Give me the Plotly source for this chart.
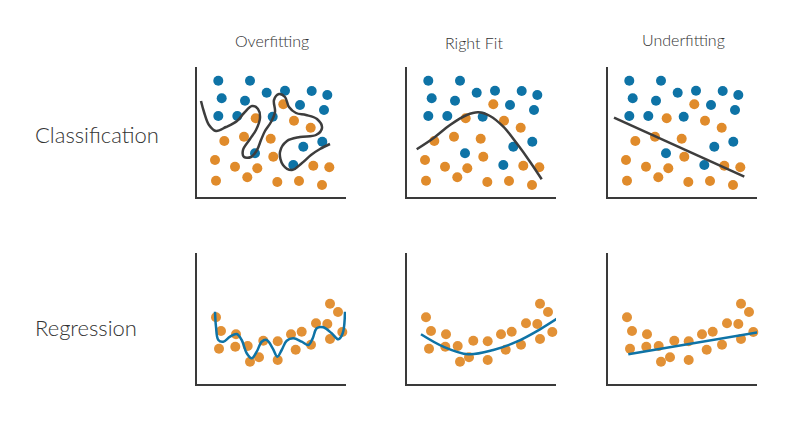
import plotly.graph_objects as go

# ---------------- data (panel-local units) ----------------
col_titles = ["Overfitting", "Right Fit", "Underfitting"]
row_titles = ["Classification", "Regression"]

blue_x = [21.3, 53, 24.7, 48, 69.7, 88, 114.7, 130.3, 21.3, 40.3, 75.7, 103, 127, 125.3, 106.3, 58, 96.3]
blue_y = [116.3, 116.3, 98.7, 96.3, 104.3, 106.3, 106, 102, 81, 81, 80.3, 92, 87, 55.3, 50.3, 43.7, 32]

orange_x = [86.3, 58.7, 97, 113.7, 27.3, 47, 73.7, 18, 76.3, 38, 60.3, 116.3, 132.3, 19, 50.3, 80.3, 102, 125]
orange_y = [92.7, 78.7, 76.3, 69.3, 56, 60.3, 58.3, 37, 40.3, 30.3, 28.7, 31.3, 29.7, 16.3, 19.7, 15, 16, 12]

over_cls_x = [4, 7, 12, 19, 29, 40, 47, 55, 61, 63, 59, 53, 46, 47, 54, 60, 64, 68, 74, 78, 77, 82, 88,
              92, 99, 109, 120, 125, 119, 103, 90, 83, 86, 95, 105, 114, 123, 133]
over_cls_y = [96, 85, 72, 66, 70, 76, 84, 91, 88, 79, 67, 58, 47, 40, 40, 47, 57, 66, 75, 85, 97, 103, 100,
              90, 84, 82, 78, 69, 62, 60, 56, 45, 32, 27, 34, 42, 48, 53]

right_cls_x = [9.7, 26.3, 43, 59.7, 71.3, 83, 96.3, 109.7, 123, 134.7]
right_cls_y = [47.7, 58.7, 72, 82, 84.7, 81, 70.3, 53.7, 35.3, 17.7]

under_cls_x = [6, 136.3]
under_cls_y = [79.3, 20.3]

reg_x = [19, 24, 22, 39, 38.3, 50.7, 53, 62, 66.3, 80.7, 80.7, 94, 98.7, 104.7, 114, 119, 130.3, 133, 133, 141, 145.3, 152]
reg_y = [66.7, 53, 35.3, 49.7, 37.3, 38, 22.3, 26.7, 43.3, 42.7, 24, 49.7, 34.3, 52.3, 39.3, 60.7, 60, 80.3, 45, 72, 52, 64.7]

over_reg_x = [18, 19, 21.3, 26.3, 33, 39.7, 44.7, 49.7, 54.7, 59.7, 64.7, 69.7, 75.7, 80.3, 84.7, 89.7,
              96.3, 104.7, 111.3, 115.7, 119.7, 126.3, 134.7, 141.3, 145.7, 148]
over_reg_y = [72.3, 57.3, 44, 42.3, 47.3, 50, 44, 30.7, 25.7, 32.3, 42.3, 44, 35.7, 27.3, 34, 43.3,
              45.7, 42.3, 39, 45.7, 55.7, 56.7, 50.7, 44.7, 50.7, 72.3]

right_reg_x = [14, 36.3, 61.3, 86.3, 109.7, 133, 153]
right_reg_y = [49.7, 37.3, 29.7, 34, 42.3, 54.7, 67.3]

under_reg_x = [20.3, 156.3]
under_reg_y = [29.7, 52.7]

# ---------------- style ----------------
W, H = 811, 429
BLUE = "#0e73a6"
ORANGE = "#e08b2b"
DARK = "#3d3d3d"
AXIS = "#3a3a3a"
TXT = "#333333"
FONT = "Lato"

col_px = [197, 407, 608]
panel_w = 149
rows_px = [(67, 197), (253, 384)]

fig = go.Figure()
layout = dict(width=W, height=H, margin=dict(l=0, r=0, t=0, b=0),
              paper_bgcolor="white", plot_bgcolor="white", showlegend=False)

curves_cls = [(over_cls_x, over_cls_y), (right_cls_x, right_cls_y), (under_cls_x, under_cls_y)]
curves_reg = [(over_reg_x, over_reg_y), (right_reg_x, right_reg_y), (under_reg_x, under_reg_y)]

idx = 0
for r, (top, bot) in enumerate(rows_px):
    for c, x0 in enumerate(col_px):
        idx += 1
        xa = "xaxis" if idx == 1 else f"xaxis{idx}"
        ya = "yaxis" if idx == 1 else f"yaxis{idx}"
        xr = "x" if idx == 1 else f"x{idx}"
        yr = "y" if idx == 1 else f"y{idx}"
        ax_common = dict(showgrid=False, zeroline=False, showticklabels=False, ticks="",
                         showline=True, linecolor=AXIS, linewidth=2, fixedrange=True)
        layout[xa] = dict(domain=[x0 / W, (x0 + panel_w) / W], range=[0, panel_w],
                          anchor=yr, **ax_common)
        layout[ya] = dict(domain=[1 - bot / H, 1 - top / H], range=[0, bot - top],
                          anchor=xr, **ax_common)
        if r == 0:
            fig.add_trace(go.Scatter(x=orange_x, y=orange_y, mode="markers", xaxis=xr, yaxis=yr,
                                     marker=dict(size=10, color=ORANGE), cliponaxis=False))
            fig.add_trace(go.Scatter(x=blue_x, y=blue_y, mode="markers", xaxis=xr, yaxis=yr,
                                     marker=dict(size=10, color=BLUE), cliponaxis=False))
            cx, cy = curves_cls[c]
            fig.add_trace(go.Scatter(x=cx, y=cy, mode="lines", xaxis=xr, yaxis=yr,
                                     line=dict(color=DARK, width=2.5, shape="spline", smoothing=1.0),
                                     cliponaxis=False))
        else:
            fig.add_trace(go.Scatter(x=reg_x, y=reg_y, mode="markers", xaxis=xr, yaxis=yr,
                                     marker=dict(size=10, color=ORANGE, opacity=0.95), cliponaxis=False))
            cx, cy = curves_reg[c]
            fig.add_trace(go.Scatter(x=cx, y=cy, mode="lines", xaxis=xr, yaxis=yr,
                                     line=dict(color=BLUE, width=2.5, shape="spline", smoothing=1.0),
                                     cliponaxis=False))

annotations = []
title_pos = [(272, 41), (474, 42), (683, 39)]
for t, (px, py) in zip(col_titles, title_pos):
    annotations.append(dict(text=t, x=px / W, y=1 - py / H, xref="paper", yref="paper",
                            xanchor="center", yanchor="middle", showarrow=False,
                            font=dict(family=FONT, size=16, color=TXT, weight=300)))
row_pos = [(33, 134), (33, 327)]
for t, (px, py) in zip(row_titles, row_pos):
    annotations.append(dict(text=t, x=px / W, y=1 - py / H, xref="paper", yref="paper",
                            xanchor="left", yanchor="middle", showarrow=False,
                            font=dict(family=FONT, size=22, color=TXT, weight=300)))
layout["annotations"] = annotations

fig.update_layout(**layout)
fig.write_html("out.html", config={"displayModeBar": False},
               post_script="document.body.style.margin='0';")
